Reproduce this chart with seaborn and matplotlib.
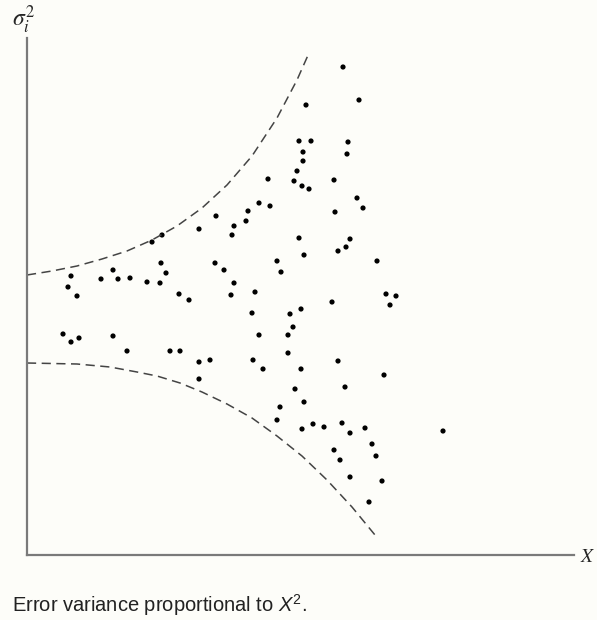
import seaborn as sns
import matplotlib.pyplot as plt
import pandas as pd

# scatter points (x, sigma^2), axis units = pixels from the origin
x_pts = [316, 332, 279, 272, 284, 321, 276, 320, 276, 270, 267, 275, 282, 307, 241,
         330, 336, 308, 232, 243, 221, 219, 207, 205, 189, 172, 135, 125, 134, 139,
         86, 74, 91, 103, 120, 133, 44, 41, 50, 152, 162, 188, 197, 207, 204,
         228, 250, 254, 272, 277, 323, 319, 311, 350, 359, 369, 363, 305, 274, 263,
         266, 261, 261, 274, 311, 357, 318, 268, 277, 253, 250, 275, 286, 297, 315,
         323, 338, 416, 307, 313, 345, 349, 323, 355, 342, 225, 232, 226, 236, 36,
         44, 52, 86, 100, 143, 153, 172, 183, 172]
y_pts = [488, 455, 450, 414, 414, 413, 403, 401, 394, 384, 374, 369, 366, 375, 376,
         357, 347, 343, 352, 349, 344, 334, 329, 320, 339, 326, 320, 313, 292, 282,
         285, 276, 276, 277, 273, 272, 279, 268, 259, 261, 255, 292, 285, 272, 260,
         263, 294, 283, 317, 300, 316, 308, 304, 294, 261, 259, 250, 253, 246, 241,
         228, 220, 202, 186, 194, 180, 168, 166, 153, 148, 135, 126, 131, 128, 132,
         122, 127, 124, 105, 95, 111, 99, 78, 74, 53, 242, 220, 195, 186, 221,
         213, 217, 219, 204, 204, 204, 193, 195, 176]

# dashed envelopes
upper_x = [0, 25, 50, 75, 100, 125, 150, 175, 200, 225, 250, 270, 282]
upper_y = [280, 284, 289, 296, 304, 315, 329, 347, 370, 399, 437, 475, 502]
lower_x = [0, 50, 83, 110, 130, 153, 175, 200, 225, 250, 275, 300, 325, 348]
lower_y = [192, 191, 188, 183, 179, 172, 163, 151, 137, 119, 99, 75, 48, 20]

df = pd.DataFrame({"x": x_pts, "y": y_pts})
up = pd.DataFrame({"x": upper_x, "y": upper_y})
lo = pd.DataFrame({"x": lower_x, "y": lower_y})

sns.set_style("white")
plt.rcParams["mathtext.fontset"] = "custom"
plt.rcParams["mathtext.rm"] = "Liberation Sans"
plt.rcParams["mathtext.it"] = "Liberation Sans:italic"

fig = plt.figure(figsize=(5.97, 6.20), dpi=100, facecolor="#fdfdf9")
ax = fig.add_axes([27 / 597, 65 / 620, 547 / 597, 517 / 620])
ax.set_facecolor("#fdfdf9")

sns.scatterplot(data=df, x="x", y="y", ax=ax, color="black", s=14,
                edgecolor="none", linewidth=0)
for d in (up, lo):
    sns.lineplot(data=d, x="x", y="y", ax=ax, color="#444444", lw=1.1,
                 sort=False, estimator=None, dashes=False, linestyle=(0, (6, 3.6)))

ax.set_xlim(0, 547)
ax.set_ylim(0, 517)
ax.set_xticks([])
ax.set_yticks([])
ax.set_xlabel("")
ax.set_ylabel("")
for side in ("top", "right"):
    ax.spines[side].set_visible(False)
for side in ("left", "bottom"):
    ax.spines[side].set_color("#7a7a7a")
    ax.spines[side].set_linewidth(1.6)

fig.text(12 / 597, 1 - 20 / 620, r"$\sigma_i^2$", fontsize=17, math_fontfamily="stix",
         ha="left", va="center")
fig.text(580 / 597, 1 - 556 / 620, r"$X$", fontsize=14, math_fontfamily="stix",
         ha="left", va="center")
fig.text(12 / 597, 1 - 605 / 620, r"Error variance proportional to $X^2$.",
         fontsize=14.5, family="Liberation Sans", color="#222222", ha="left", va="center")

fig.savefig("out.png", dpi=100, facecolor=fig.get_facecolor())
plt.close(fig)
